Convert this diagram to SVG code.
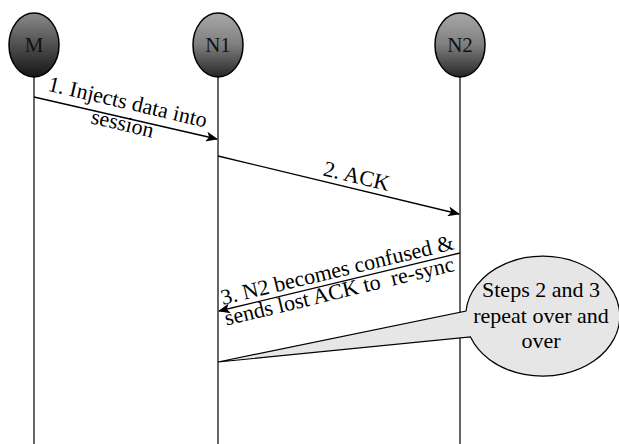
<svg xmlns="http://www.w3.org/2000/svg" width="619" height="444" viewBox="0 0 619 444">
<defs>
<linearGradient id="gM" x1="0" y1="0" x2="0" y2="1">
<stop offset="0" stop-color="#8a8a8a"/>
<stop offset="1" stop-color="#151515"/>
</linearGradient>
<linearGradient id="gN" x1="0" y1="0" x2="0" y2="1">
<stop offset="0" stop-color="#a8a8a8"/>
<stop offset="0.5" stop-color="#7e7e7e"/>
<stop offset="1" stop-color="#262626"/>
</linearGradient>
<marker id="ah" viewBox="0 0 12 10" refX="11" refY="5" markerWidth="12" markerHeight="10" markerUnits="userSpaceOnUse" orient="auto">
<path d="M0,0 L12,5 L0,10 L3,5 Z" fill="#000"/>
</marker>
</defs>
<g id="lifelines" stroke="#000" stroke-width="1.2" fill="none">
<line x1="34" y1="77" x2="34" y2="444"/>
<line x1="218" y1="77" x2="218" y2="444"/>
<line x1="460" y1="77" x2="460" y2="444"/>
</g>
<g id="node-M">
<ellipse cx="34" cy="45" rx="25" ry="32" fill="url(#gM)" stroke="#000" stroke-width="1.5"/>
<text x="34" y="52" font-family="'Liberation Serif', serif" font-size="21" fill="#111" text-anchor="middle">M</text>
</g>
<g id="node-N1">
<ellipse cx="218" cy="45" rx="25" ry="32" fill="url(#gN)" stroke="#000" stroke-width="1.5"/>
<text x="218" y="52" font-family="'Liberation Serif', serif" font-size="21" fill="#111" text-anchor="middle">N1</text>
</g>
<g id="node-N2">
<ellipse cx="460" cy="45" rx="25" ry="32" fill="url(#gN)" stroke="#000" stroke-width="1.5"/>
<text x="460" y="52" font-family="'Liberation Serif', serif" font-size="21" fill="#111" text-anchor="middle">N2</text>
</g>
<g id="connectors" stroke="#000" stroke-width="1.3" fill="none" marker-end="url(#ah)">
<line x1="34" y1="97" x2="217" y2="139"/>
<line x1="218" y1="156" x2="459" y2="214"/>
<line x1="460" y1="253" x2="219" y2="311"/>
</g>
<g id="labels" font-family="'Liberation Serif', serif" font-size="22" fill="#000" text-anchor="middle">
<text transform="translate(126,109) rotate(13.2)"><tspan x="0" y="0">1. Injects data into</tspan><tspan x="0" y="22">session</tspan></text>
<text transform="translate(355,183) rotate(13.5)">2. ACK</text>
<text transform="translate(339,277) rotate(-13.5)" xml:space="preserve"><tspan x="0" y="0">3. N2 becomes confused &amp;</tspan><tspan x="-3" y="21">sends lost ACK to  re-sync</tspan></text>
</g>
<g id="callout">
<path d="M218,362 L466,311 A77,60 0 1 1 470.5,337 Z" fill="#e6e6e6" stroke="#000" stroke-width="1.2"/>
<g font-family="'Liberation Serif', serif" font-size="22" fill="#000" text-anchor="middle">
<text x="541" y="297">Steps 2 and 3</text>
<text x="541" y="323">repeat over and</text>
<text x="541" y="348">over</text>
</g>
</g>
</svg>
